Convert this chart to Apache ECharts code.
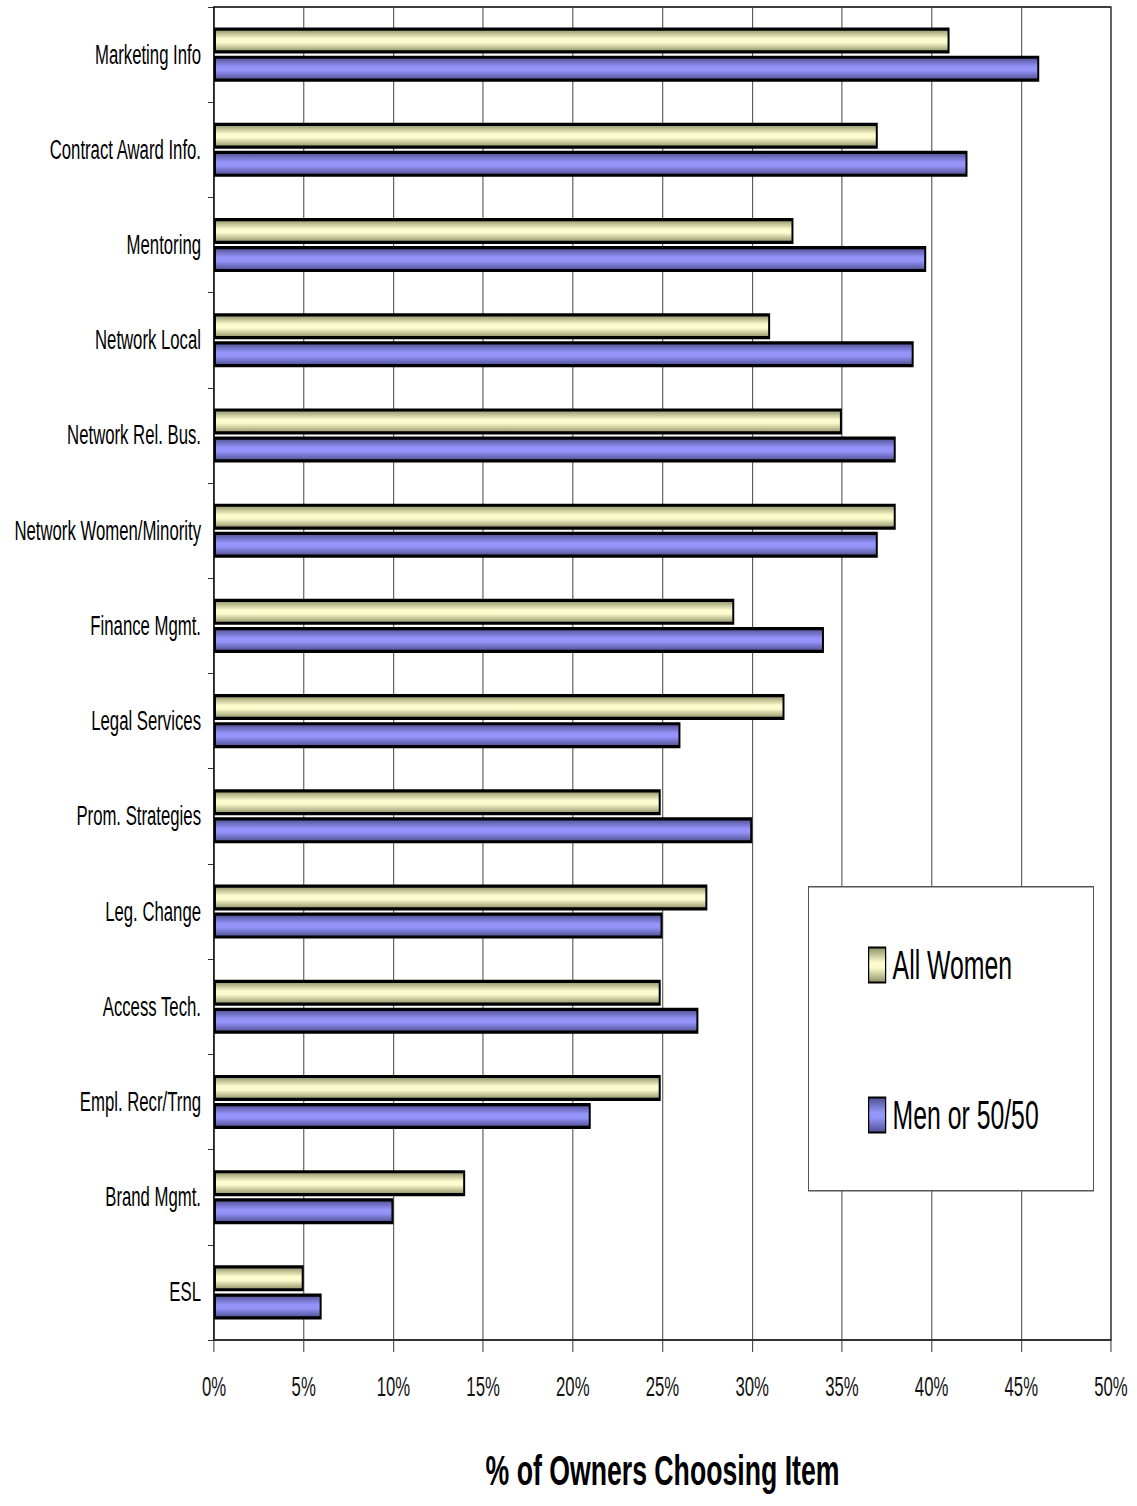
<!DOCTYPE html>
<html>
<head>
<meta charset="utf-8">
<title>% of Owners Choosing Item</title>
<script src="https://cdn.jsdelivr.net/npm/echarts@6/dist/echarts.min.js"></script>
<style>
  html, body { margin: 0; padding: 0; background: #fff; overflow: hidden; }
  /* The chart is laid out wide and then compressed horizontally,
     giving the tall, narrow lettering of the printed figure. */
  #chart { width: 1834px; height: 1506px; transform-origin: 0 0; }
</style>
</head>
<body>
<div id="chart"></div>
<script>
// Assistance items, listed top to bottom
const categories = [
  'Marketing Info', 'Contract Award Info.', 'Mentoring', 'Network Local',
  'Network Rel. Bus.', 'Network Women/Minority', 'Finance Mgmt.', 'Legal Services',
  'Prom. Strategies', 'Leg. Change', 'Access Tech.', 'Empl. Recr/Trng',
  'Brand Mgmt.', 'ESL'
];

// Percent of owners choosing each item
const allWomen = [41, 37, 32.3, 31, 35, 38, 29, 31.8, 24.9, 27.5, 24.9, 24.9, 14, 5];
const menOr5050 = [46, 42, 39.7, 39, 38, 37, 34, 26, 30, 25, 27, 21, 10, 6];

const seriesNames = ['All Women', 'Men or 50/50'];
const xTicks = { min: 0, max: 50, interval: 5 };

const PAGE_W = 1137;
const LAYOUT_W = 1834;
const SX = PAGE_W / LAYOUT_W;          // horizontal compression
const hx = v => v / SX;                // page px -> layout px (horizontal)

const FONT = "'Liberation Sans', Arial, sans-serif";

const el = document.getElementById('chart');
el.style.transform = 'scaleX(' + SX + ')';

function barGradient(edge, mid) {
  return new echarts.graphic.LinearGradient(0, 0, 0, 1, [
    { offset: 0, color: edge },
    { offset: 0.42, color: mid },
    { offset: 0.58, color: mid },
    { offset: 1, color: edge }
  ]);
}

const chart = echarts.init(el, null, { renderer: 'svg', width: LAYOUT_W, height: 1506 });

const legendBox = { left: hx(808), top: 886, width: hx(285), height: 304 };

chart.setOption({
  backgroundColor: '#fff',
  animation: false,
  textStyle: { fontFamily: FONT },
  grid: {
    left: hx(214), right: hx(26), top: 7, bottom: 166,
    outerBoundsMode: 'none',
    containLabel: false,
    show: true, borderColor: '#000', borderWidth: 1.6, backgroundColor: 'transparent'
  },
  graphic: [{
    type: 'rect',
    z: 10,
    left: legendBox.left, top: legendBox.top,
    shape: { width: legendBox.width, height: legendBox.height },
    style: { fill: '#fff', stroke: '#555', lineWidth: 1.6 }
  }],
  legend: {
    orient: 'vertical',
    left: hx(868), top: 945,
    z: 20,
    padding: 0,
    itemWidth: hx(17), itemHeight: 35, itemGap: 110,
    icon: 'rect',
    textStyle: {
      fontFamily: FONT, fontSize: 40, lineHeight: 40, color: '#000',
      padding: [0, 0, 0, hx(7) - 5]
    },
    data: seriesNames
  },
  xAxis: {
    type: 'value',
    min: xTicks.min, max: xTicks.max, interval: xTicks.interval,
    name: '% of Owners Choosing Item',
    nameLocation: 'middle',
    nameGap: 109,
    nameTextStyle: { fontFamily: FONT, fontSize: 43, fontWeight: 'bold', color: '#000' },
    axisLine: { show: true, lineStyle: { color: '#333', width: 2 } },
    axisTick: { show: true, length: 12, lineStyle: { color: '#333', width: 1.6 } },
    axisLabel: {
      margin: 33, fontSize: 27, color: '#111', fontFamily: FONT,
      formatter: v => v + '%'
    },
    splitLine: { show: true, lineStyle: { color: '#444', width: 1.6 } }
  },
  yAxis: {
    type: 'category',
    inverse: true,
    data: categories,
    axisLine: { show: true, onZero: false, lineStyle: { color: '#000', width: 1.6 } },
    axisTick: { show: true, length: hx(6), inside: false, lineStyle: { color: '#000', width: 1 } },
    axisLabel: { margin: hx(13), fontSize: 27, color: '#000', fontFamily: FONT },
    splitLine: { show: false }
  },
  series: [
    {
      name: seriesNames[0],
      type: 'bar',
      data: allWomen,
      barWidth: 26,
      barGap: '8%',
      itemStyle: {
        color: barGradient('#8e8e66', '#fbfbcc'),
        borderColor: '#000', borderWidth: 3.2
      }
    },
    {
      name: seriesNames[1],
      type: 'bar',
      data: menOr5050,
      barWidth: 26,
      barGap: '8%',
      itemStyle: {
        color: barGradient('#4e4e8c', '#9494fb'),
        borderColor: '#000', borderWidth: 3.2
      }
    }
  ]
});
</script>
</body>
</html>
